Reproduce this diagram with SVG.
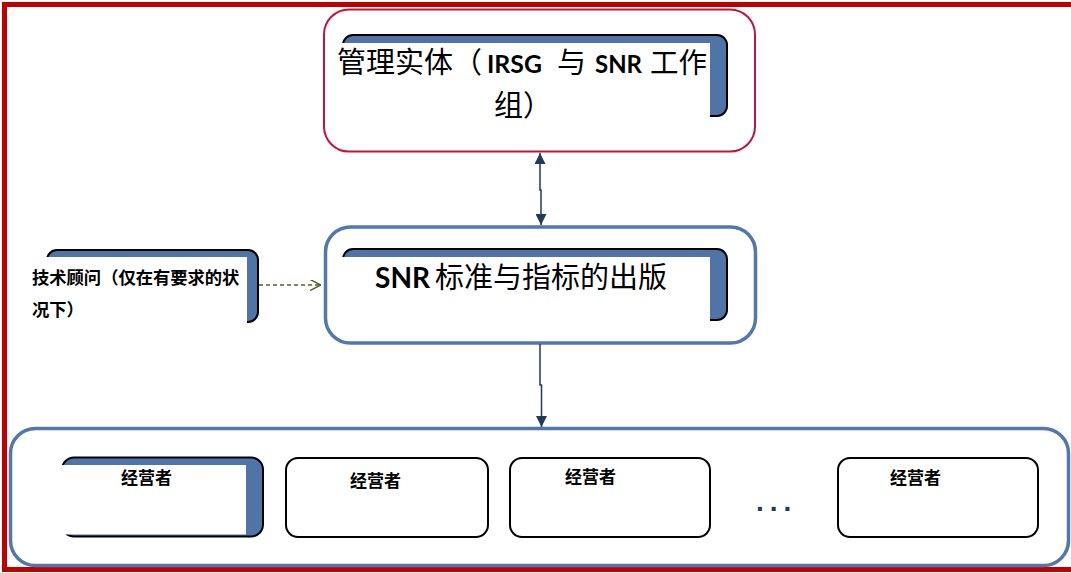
<svg xmlns="http://www.w3.org/2000/svg" width="1071" height="573" viewBox="0 0 1071 573">
<style>
.cjk{font-family:"Noto Sans CJK SC","Liberation Sans",sans-serif;fill:#000}
.lat{font-family:Lato,"Liberation Sans",sans-serif;font-weight:bold;fill:#000}
.b{font-weight:bold}
.blue{fill:#4E74A8;stroke:#000;stroke-width:2}
.wh{fill:#fff;stroke:none}
.op{fill:#fff;stroke:#000;stroke-width:2}
.conn{fill:none;stroke:#1F3A5A;stroke-width:1.5}
</style>
<defs>
<marker id="tri" viewBox="0 0 10 10" refX="10" refY="5" markerWidth="11" markerHeight="11" markerUnits="userSpaceOnUse" orient="auto-start-reverse">
<path d="M0,0 L10,5 L0,10 z" fill="#1F3A5A"/>
</marker>
<marker id="open" viewBox="0 0 10 10" refX="10" refY="5" markerWidth="11" markerHeight="11" markerUnits="userSpaceOnUse" orient="auto">
<path d="M0,0 L10,5 L0,10" fill="none" stroke="#4F6228" stroke-width="1.3"/>
</marker>
</defs>
<rect width="1071" height="573" fill="#fff"/>
<rect x="4.5" y="4.5" width="1072" height="565" fill="none" stroke="#C00000" stroke-width="5"/>

<g id="node-management">
<rect x="324" y="9.5" width="431" height="142" rx="25" fill="#fff" stroke="#C0143C" stroke-width="2"/>
<rect class="blue" x="343" y="35" width="384" height="81" rx="10"/>
<rect class="wh" x="341" y="43" width="369" height="75"/>
<text class="cjk" font-size="29" x="337" y="73">管理实体（</text>
<text class="lat" font-size="25" x="487" y="73" textLength="55" lengthAdjust="spacingAndGlyphs">IRSG</text>
<text class="cjk" font-size="29" x="557" y="73">与</text>
<text class="lat" font-size="25" x="595" y="73" textLength="47" lengthAdjust="spacingAndGlyphs">SNR</text>
<text class="cjk" font-size="28.5" x="650" y="73">工作</text>
<text class="cjk" font-size="29" x="494" y="116">组）</text>
</g>

<g id="node-publication">
<rect x="325.5" y="227" width="430" height="116" rx="25" fill="#fff" stroke="#5277AE" stroke-width="3.5"/>
<rect class="blue" x="343" y="249" width="384" height="71" rx="10"/>
<rect class="wh" x="341" y="257" width="369" height="65"/>
<text class="lat" font-size="28" x="375" y="288" textLength="55" lengthAdjust="spacingAndGlyphs">SNR</text>
<text class="cjk" font-size="29" x="435" y="288">标准与指标的出版</text>
</g>

<g id="node-advisor">
<rect class="blue" x="47" y="250" width="211" height="72" rx="10"/>
<rect class="wh" x="45" y="257" width="202" height="67"/>
<text class="cjk b" font-size="17.3" x="32" y="284">技术顾问（仅在有要求的状</text>
<text class="cjk b" font-size="17.3" x="32" y="316">况下）</text>
</g>

<g id="node-operators">
<rect x="10.5" y="428.5" width="1058" height="137" rx="25" fill="#fff" stroke="#5277AE" stroke-width="3.5"/>
</g>

<g id="node-operator-1">
<rect class="blue" x="62" y="457.5" width="201" height="79" rx="12"/>
<rect class="wh" x="60" y="465" width="186" height="69.5"/>
<text class="cjk b" font-size="17" x="121" y="484">经营者</text>
</g>
<g id="node-operator-2">
<rect class="op" x="286" y="458" width="202" height="79" rx="12"/>
<text class="cjk b" font-size="17" x="350" y="487">经营者</text>
</g>
<g id="node-operator-3">
<rect class="op" x="510" y="458" width="200" height="79" rx="12"/>
<text class="cjk b" font-size="17" x="565" y="483">经营者</text>
</g>
<g id="node-ellipsis">
<text x="756" y="511" font-family="Liberation Sans, sans-serif" font-weight="bold" font-size="28" letter-spacing="6" fill="#1F3A5A">...</text>
</g>
<g id="node-operator-4">
<rect class="op" x="838" y="458" width="200" height="79" rx="12"/>
<text class="cjk b" font-size="17" x="890" y="484">经营者</text>
</g>

<g id="connectors">
<path class="conn" d="M540,153 V190 H541 V225" marker-start="url(#tri)" marker-end="url(#tri)"/>
<path class="conn" d="M540,344 V385 H541.5 V427" marker-end="url(#tri)"/>
<path d="M259,285 H321" fill="none" stroke="#4F6228" stroke-width="1.3" stroke-dasharray="4 3" marker-end="url(#open)"/>
</g>
</svg>
